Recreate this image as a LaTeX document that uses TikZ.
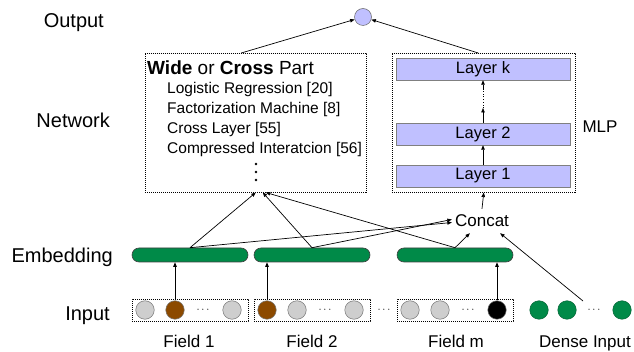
\documentclass[tikz,border=0pt]{standalone}
\usepackage{fontspec}
\setmainfont{Liberation Sans}
\usetikzlibrary{arrows.meta}
\definecolor{lav}{RGB}{192,192,255}
\definecolor{emb}{RGB}{0,138,72}
\definecolor{brn}{RGB}{140,74,0}
\definecolor{lgray}{RGB}{206,206,206}
\begin{document}
\begin{tikzpicture}[x=1pt,y=-1pt,
 arr/.style={-{Triangle[length=4.5pt,width=3.5pt]}, line width=0.7pt},
 dbox/.style={draw, line width=0.5pt, inner sep=0, dash pattern=on 1.2pt off 0.8pt},
 layer/.style={draw=black!50, fill=lav, minimum width=174pt, minimum height=22pt, inner sep=0, font=\fontsize{16.5}{19}\selectfont},
 bar/.style={draw=black!75, fill=emb, rounded corners=7pt, minimum width=116pt, minimum height=14pt, inner sep=0, line width=0.6pt},
 fieldbox/.style={dbox, minimum width=116pt, minimum height=22pt},
 cdot/.style={circle, draw=black!55, minimum size=18.5pt, inner sep=0, line width=0.5pt},
 gdot/.style={cdot, fill=lgray},
 bdot/.style={cdot, fill=brn},
 kdot/.style={cdot, fill=black},
 edot/.style={cdot, fill=emb, draw=emb!70!black},
 vd/.style={circle, fill=black, minimum size=2.6pt, inner sep=0},
 ell/.style={font=\fontsize{11}{12}\selectfont, inner sep=0},
 lab/.style={font=\fontsize{20}{24}\selectfont, inner sep=0, anchor=base east},
 mid/.style={font=\fontsize{17}{20}\selectfont, inner sep=0},
 lst/.style={font=\fontsize{15.5}{18}\selectfont, inner sep=0, anchor=base west}]
\useasboundingbox (0,0) rectangle (634,352);

% left labels
\node[lab] (lout) at (104,28) {Output};
\node[lab] (lnet) at (110,128) {Network};
\node[lab] (lemb) at (113,263) {Embedding};
\node[lab] (lin) at (110,321) {Input};

% output
\node[circle, draw=black!60, fill=lav, minimum size=17pt, inner sep=0, line width=0.5pt] (out) at (363,17) {};

% wide part
\node[dbox, minimum width=221pt, minimum height=139pt, anchor=north west] (wide) at (145,53) {};
\node[font=\fontsize{19}{22}\selectfont, inner sep=0, anchor=base west] (wt) at (147,75) {\textbf{Wide} or \textbf{Cross} Part};
\node[lst] (w1) at (167,94) {Logistic Regression [20]};
\node[lst] (w2) at (167,114) {Factorization Machine [8]};
\node[lst] (w3) at (167,134) {Cross Layer [55]};
\node[lst] (w4) at (167,154) {Compressed Interatcion [56]};
\node[vd] (wd1) at (256,164) {};
\node[vd] (wd2) at (256,172) {};
\node[vd] (wd3) at (256,180) {};

% MLP
\node[dbox, minimum width=183pt, minimum height=139pt, anchor=north west] (mlp) at (392,53) {};
\node[layer] (Lk) at (483,69) {Layer k};
\node[layer] (L2) at (483,134) {Layer 2};
\node[layer] (L1) at (483,176) {Layer 1};
\node[mid] (mlpl) at (600,127) {MLP};
\coordinate (m1) at (483,108);
\coordinate (m2) at (483,89);
\draw[arr] (L1.north) -- (L2.south);
\draw[arr] (L2.north) -- (m1);
\draw[line width=0.7pt, dotted] (m1) -- (m2);
\draw[arr] (m2) -- (Lk.south);

% concat
\node[font=\fontsize{17}{20}\selectfont, text height=12pt, text depth=0pt, inner xsep=3pt, inner ysep=6pt, anchor=base] (concat) at (482,227) {Concat};
\draw[arr] (concat.north) -- (mlp.south);

% to output
\draw[arr] ([xshift=-14.5pt]wide.north) -- (out);
\draw[arr] ([xshift=-5.5pt]mlp.north) -- (out);

% embeddings
\node[bar] (e1) at (190,255) {};
\node[bar] (e2) at (312,255) {};
\node[bar] (e3) at (455,255) {};

\draw[arr] (e1.north) -- (wide.south);
\draw[arr] (e1.north) -- ([yshift=-1.5pt]concat.west);
\draw[arr] (e2.north) -- ([xshift=7pt]wide.south);
\draw[arr] (e2.north) -- ([yshift=1.5pt]concat.west);
\draw[arr] (e3.north) -- ([xshift=10pt]wide.south);
\draw[arr] (e3.north) -- ([xshift=18pt]concat.south west);

% fields
\node[fieldbox] (f1) at (190,310) {};
\node[fieldbox] (f2) at (312,310) {};
\node[fieldbox] (fm) at (455,310) {};

\node[gdot] (f1a) at (145,310) {};
\node[bdot] (f1b) at (175,310) {};
\node[ell] (f1e) at (203,310) {$\cdots$};
\node[gdot] (f1d) at (232,310) {};

\node[bdot] (f2a) at (267,310) {};
\node[gdot] (f2b) at (297,310) {};
\node[ell] (f2e) at (325,310) {$\cdots$};
\node[gdot] (f2d) at (354,310) {};

\node[ell] (fe) at (384,310) {$\cdots$};

\node[gdot] (fma) at (410,310) {};
\node[gdot] (fmb) at (440,310) {};
\node[ell] (fme) at (468,310) {$\cdots$};
\node[kdot] (fmd) at (497,310) {};

\node[edot] (da) at (539,310) {};
\node[edot] (db) at (567,310) {};
\node[ell] (de) at (594,310) {$\cdots$};
\node[edot] (dd) at (622,310) {};

\draw[arr] (f1b.north) -- (f1b.north |- e1.south);
\draw[arr] (f2a.north) -- (f2a.north |- e2.south);
\draw[arr] (fmd.north) -- (fmd.north |- e3.south);

\coordinate (ds) at (583,301);
\draw[arr] (ds) -- ([xshift=-12pt]concat.south east);

% field labels
\node[mid, anchor=base] (fl1) at (189,347) {Field 1};
\node[mid, anchor=base] (fl2) at (312,347) {Field 2};
\node[mid, anchor=base] (flm) at (456,347) {Field m};
\node[mid, anchor=base] (fld) at (585,347) {Dense Input};
\end{tikzpicture}
\end{document}
